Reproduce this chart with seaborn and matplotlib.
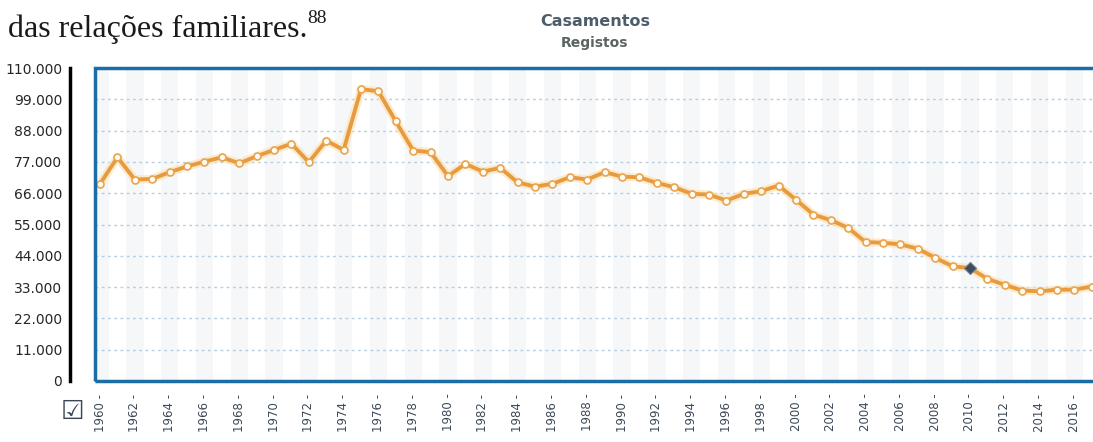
import matplotlib
matplotlib.use("Agg")
import matplotlib.pyplot as plt
from matplotlib.patches import Rectangle
import seaborn as sns
import pandas as pd

# Casamentos em Portugal (registos)
years = list(range(1960, 2018))
marriages = [
    69300, 78600, 70800, 71000, 73400, 75400, 77100, 78600, 76500, 79000,
    81200, 83400, 76900, 84500, 81200, 102600, 101800, 91200, 81000, 80400,
    72000, 76300, 73600, 74900, 69800, 68300, 69300, 71600, 70800, 73400,
    71800, 71600, 69600, 68100, 65800, 65500, 63400, 65800, 66700, 68700,
    63700, 58500, 56500, 53800, 48800, 48600, 48000, 46500, 43300, 40300,
    39700, 35900, 33800, 31800, 31500, 32100, 32100, 33200,
]
highlight_year = 2010
y_ticks = [0, 11000, 22000, 33000, 44000, 55000, 66000, 77000, 88000, 99000, 110000]
y_labels = ["0", "11.000", "22.000", "33.000", "44.000", "55.000",
            "66.000", "77.000", "88.000", "99.000", "110.000"]
x_ticks = list(range(1960, 2017, 2))
x_labels = [f"{y} -" for y in x_ticks]

title = "Casamentos"
subtitle = "Registos"
body_text = "das relações familiares."
footnote = "88"

sns.set_style("white")
plt.rcParams['font.family'] = ['DejaVu Sans']

df = pd.DataFrame({"ano": years, "casamentos": marriages})

W, H = 1093, 442
fig = plt.figure(figsize=(W / 100, H / 100), dpi=100)
ax = fig.add_axes([95 / W, 1 - 381 / H, (W - 95) / W, (381 - 68) / H])

# faixas verticais alternadas
for y in years[::2]:
    ax.axvspan(y - 0.5, y + 0.5, color="#f6f7f9", lw=0, zorder=0)

# brilho por baixo da linha
sns.lineplot(data=df, x="ano", y="casamentos", ax=ax, color="#fbe3b8",
             lw=6, alpha=0.7, zorder=2)
sns.lineplot(data=df, x="ano", y="casamentos", ax=ax, color="#e89b3e",
             lw=2.8, marker="o", markersize=5, markerfacecolor="#fffdf5",
             markeredgecolor="#e9a54f", markeredgewidth=1.2, zorder=3)

hl = df[df["ano"] == highlight_year]
ax.scatter(hl["ano"], hl["casamentos"], marker="D", s=38, color="#3f4c59",
           zorder=4, edgecolor="#6d7f8f", linewidth=0.8)

ax.set_xlim(1959.71, 2017.07)
ax.set_ylim(0, 110000)
ax.set_xlabel("")
ax.set_ylabel("")

ax.set_yticks(y_ticks)
ax.set_yticklabels(y_labels, fontsize=7.2, color="#3d4958")
ax.set_xticks(x_ticks)
ax.set_xticklabels(x_labels, rotation=90, fontsize=8.5, color="#3d4958")
ax.tick_params(axis="x", length=0, pad=9)
ax.tick_params(axis="y", length=4, width=2, color="black", pad=1.5, direction="out")

ax.yaxis.grid(True, linestyle=(0, (2, 2.5)), color="#b3cfe3", lw=1)
ax.xaxis.grid(False)

for s in ["top", "right", "bottom"]:
    ax.spines[s].set_visible(False)
ax.spines["left"].set_position(("outward", 18))
ax.spines["left"].set_color("black")
ax.spines["left"].set_linewidth(2.5)

# moldura azul
frame = Rectangle((0, 0), 1.05, 1, transform=ax.transAxes, fill=False,
                  edgecolor="#1b6ea5", lw=2.5, clip_on=False, zorder=5)
ax.add_patch(frame)

# caixa de seleção
fig.text(72 / W, 1 - 412 / H, "\u2611", fontsize=19, color="#3a4656",
         ha="center", va="center")

fig.text(595 / W, 1 - 21 / H, title, fontsize=11.5, fontweight="bold",
         color="#4d5d6b", ha="center", va="center")
fig.text(595 / W, 1 - 43 / H, subtitle, fontsize=10, fontweight="bold",
         color="#5b6560", ha="center", va="center")

fig.text(8 / W, 1 - 37 / H, body_text, fontsize=23, family="Liberation Serif",
         color="#1a1a1a", va="baseline")
fig.text(307 / W, 1 - 23 / H, footnote, fontsize=14, family="Liberation Serif",
         color="#1a1a1a", va="baseline")

fig.savefig("out.png", dpi=100)
